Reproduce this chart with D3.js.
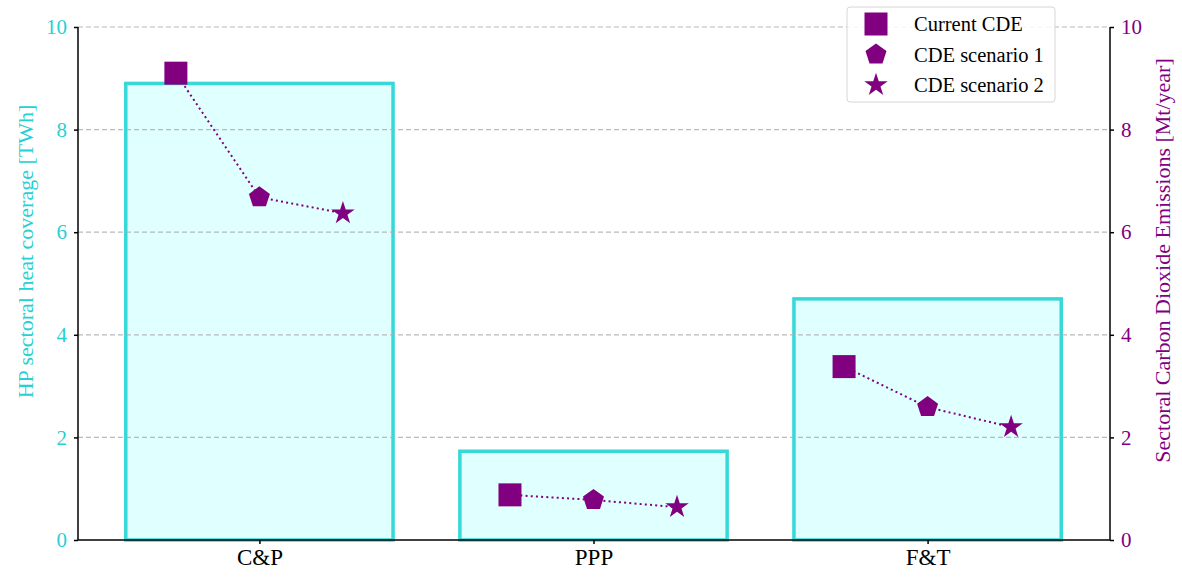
<!DOCTYPE html>
<html>
<head>
<meta charset="utf-8">
<script src="https://cdn.jsdelivr.net/npm/d3@7"></script>
<style>
  html, body { margin: 0; padding: 0; background: #fff; }
  svg { display: block; font-family: "Liberation Serif", "DejaVu Serif", serif; }
</style>
</head>
<body>
<svg id="chart" width="1182" height="579"></svg>
<script>
// Sector categories
const categories = ["C&P", "PPP", "F&T"];
// Heat pump sectoral heat coverage [TWh] (left axis, bars)
const heatCoverage = [8.9, 1.73, 4.7];
// Sectoral CO2 emissions [Mt/year] (right axis, markers)
const currentCDE = [9.1, 0.88, 3.38];
const scenario1CDE = [6.68, 0.78, 2.59];
const scenario2CDE = [6.37, 0.64, 2.2];
const seriesNames = ["Current CDE", "CDE scenario 1", "CDE scenario 2"];
const yTicks = [0, 2, 4, 6, 8, 10];

const teal = "#37d8d8";
const tealText = "#26d0d3";
const purple = "#800080";

const svg = d3.select("#chart");
const M = { left: 78, right: 1110, top: 27, bottom: 540 };

const x = d3.scaleLinear().domain([-0.543, 2.546]).range([M.left, M.right]);
const yL = d3.scaleLinear().domain([0, 10]).range([M.bottom, M.top]);
const yR = d3.scaleLinear().domain([0, 10]).range([M.bottom, M.top]);

const barWidth = 0.8;
const offsets = [-0.25, 0, 0.25];

// Bars
svg.append("g").selectAll("rect").data(heatCoverage).join("rect")
  .attr("x", (d, i) => x(i - barWidth / 2))
  .attr("width", (d, i) => x(i + barWidth / 2) - x(i - barWidth / 2))
  .attr("y", d => yL(d))
  .attr("height", d => yL(0) - yL(d))
  .attr("fill", "#e0ffff")
  .attr("stroke", teal)
  .attr("stroke-width", 3.5);

// Grid lines
svg.append("g").selectAll("line").data(yTicks.filter(t => t > 0)).join("line")
  .attr("x1", M.left).attr("x2", M.right)
  .attr("y1", d => yR(d)).attr("y2", d => yR(d))
  .attr("stroke", "#b0b0b0")
  .attr("stroke-width", 1.2)
  .attr("stroke-dasharray", "5,3")
  .attr("opacity", 0.85);

// Axes
const axisL = svg.append("g").attr("transform", `translate(${M.left},0)`)
  .call(d3.axisLeft(yL).tickValues(yTicks).tickSize(4).tickPadding(7));
const axisR = svg.append("g").attr("transform", `translate(${M.right},0)`)
  .call(d3.axisRight(yR).tickValues(yTicks).tickSize(4).tickPadding(7));
const axisB = svg.append("g").attr("transform", `translate(0,${M.bottom})`)
  .call(d3.axisBottom(x).tickValues([0, 1, 2]).tickFormat(i => categories[i]).tickSize(4).tickPadding(5));

[axisL, axisR, axisB].forEach(g => {
  g.select(".domain").attr("stroke", "#000").attr("stroke-width", 1.5);
  g.selectAll(".tick line").attr("stroke", "#000").attr("stroke-width", 1.5);
  g.selectAll("text").attr("font-family", "Liberation Serif, serif").attr("font-size", 21);
});
axisL.select(".domain").attr("d", `M0,${M.bottom}V${M.top}`);
axisR.select(".domain").attr("d", `M0,${M.bottom}V${M.top}`);
axisB.select(".domain").attr("d", `M${M.left},0H${M.right}`);
axisL.selectAll("text").attr("fill", tealText);
axisR.selectAll("text").attr("fill", purple);
axisB.selectAll("text").attr("fill", "#000").attr("font-size", 23);

// Axis titles
svg.append("text")
  .attr("transform", `translate(25,${(M.top + M.bottom) / 2 - 32}) rotate(-90)`)
  .attr("text-anchor", "middle")
  .attr("dy", "0.35em")
  .attr("font-size", 22)
  .attr("fill", tealText)
  .text("HP sectoral heat coverage [TWh]");
svg.append("text")
  .attr("transform", `translate(1162,${(M.top + M.bottom) / 2 - 23}) rotate(-90)`)
  .attr("text-anchor", "middle")
  .attr("dy", "0.35em")
  .attr("font-size", 22)
  .attr("fill", purple)
  .text("Sectoral Carbon Dioxide Emissions [Mt/year]");

// Marker symbols
const pentagon = {
  draw(ctx, size) {
    const r = Math.sqrt(size / 2.3776);
    for (let k = 0; k < 5; k++) {
      const a = -Math.PI / 2 + k * 2 * Math.PI / 5;
      const px = r * Math.cos(a), py = r * Math.sin(a);
      if (k === 0) ctx.moveTo(px, py); else ctx.lineTo(px, py);
    }
    ctx.closePath();
  }
};
const symbols = [
  d3.symbol(d3.symbolSquare, 529),
  d3.symbol(pentagon, 290),
  d3.symbol(d3.symbolStar, 170)
];
const series = [currentCDE, scenario1CDE, scenario2CDE];

// Dotted connectors within each sector
const line = d3.line().x(d => x(d[0])).y(d => yR(d[1]));
categories.forEach((c, i) => {
  const pts = series.map((s, k) => [i + offsets[k], s[i]]);
  svg.append("path")
    .attr("d", line(pts))
    .attr("fill", "none")
    .attr("stroke", purple)
    .attr("stroke-width", 2)
    .attr("stroke-dasharray", "2,3.2");
});

// Markers
series.forEach((s, k) => {
  svg.append("g").selectAll("path").data(s).join("path")
    .attr("transform", (d, i) => `translate(${x(i + offsets[k])},${yR(d)})`)
    .attr("d", symbols[k])
    .attr("fill", purple);
});

// Legend
const lg = svg.append("g");
lg.append("rect")
  .attr("x", 847).attr("y", 7).attr("width", 208).attr("height", 95)
  .attr("rx", 3).attr("fill", "#fff").attr("fill-opacity", 0.85)
  .attr("stroke", "#d6d6d6").attr("stroke-width", 1);
seriesNames.forEach((name, k) => {
  const yy = 24 + k * 30.5;
  lg.append("path").attr("transform", `translate(876,${yy})`)
    .attr("d", symbols[k]).attr("fill", purple);
  lg.append("text").attr("x", 914).attr("y", yy).attr("dy", "0.35em")
    .attr("font-size", 20.5).attr("fill", "#000").text(name);
});
</script>
</body>
</html>
